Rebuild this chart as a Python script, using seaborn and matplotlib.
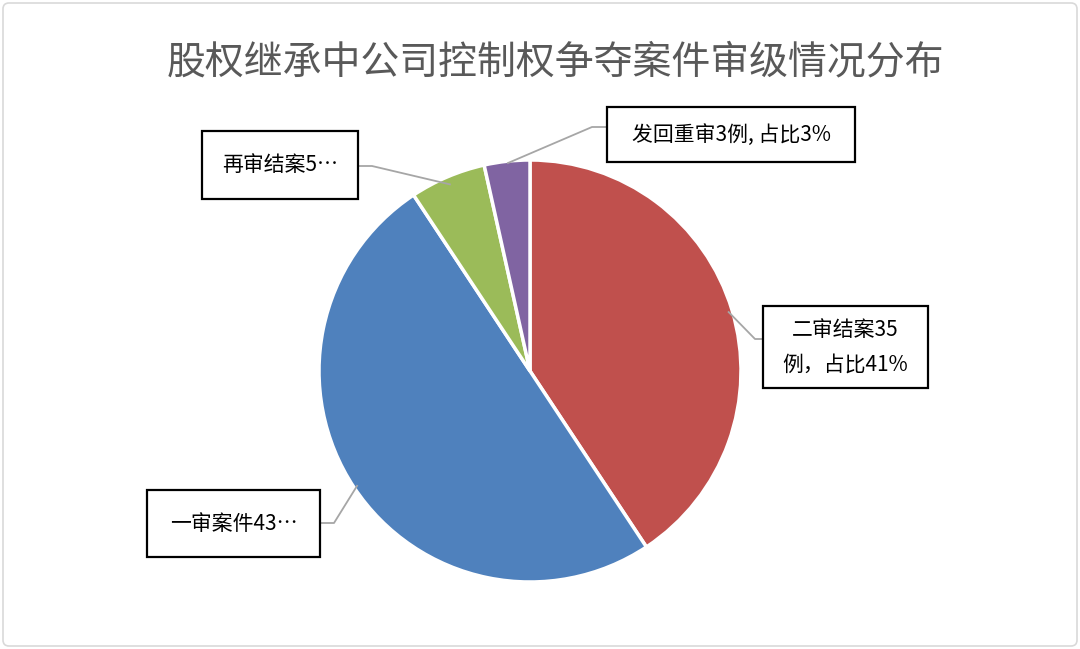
import matplotlib
matplotlib.use("Agg")
import matplotlib.pyplot as plt
import numpy as np
import seaborn as sns
from matplotlib.patches import FancyBboxPatch, Rectangle

TITLE = "股权继承中公司控制权争夺案件审级情况分布"
CATEGORIES = ["二审结案", "一审案件", "再审结案", "发回重审"]
COUNTS = [35, 43, 5, 3]
LABELS = ["二审结案35\n例，占比41%", "一审案件43…", "再审结案5…", "发回重审3例, 占比3%"]
COLORS = ["#C0504D", "#4F81BD", "#9BBB59", "#8064A2"]

W, H = 1080, 649
CX, CY, R = 530, 371, 211  # pie centre and radius in pixels

# label boxes (x0, y0, x1, y1) and leader elbow, in pixels
BOXES = [(763, 306, 928, 388), (147, 490, 320, 557), (202, 131, 358, 199), (607, 107, 855, 162)]
ELBOWS = [(755, 339), (334, 523), (372, 166), (592, 127)]
ANCHOR_R = [0.98, 0.98, 0.96, 0.99]


def px(x, y):
    return (x - CX) / R, (CY - y) / R


sns.set_theme(style="white")
plt.rcParams["font.family"] = ["Noto Sans CJK SC", "DejaVu Sans"]

fig = plt.figure(figsize=(W / 100, H / 100), dpi=100)
ax = fig.add_axes([0, 0, 1, 1])

wedges, _ = ax.pie(COUNTS, colors=COLORS, startangle=90, counterclock=False, radius=1,
                   wedgeprops=dict(edgecolor="white", linewidth=2.5))

ax.set_xlim(-CX / R, (W - CX) / R)
ax.set_ylim(-(H - CY) / R, CY / R)
ax.set_aspect("equal")
ax.axis("off")

# outer chart border
border = FancyBboxPatch((3, 3), W - 6, H - 6, boxstyle="round,pad=0,rounding_size=6",
                        transform=None, facecolor="none", edgecolor="#D9D9D9", linewidth=1.2)
fig.patches.append(border)

for w, label, box, elbow, ar in zip(wedges, LABELS, BOXES, ELBOWS, ANCHOR_R):
    mid = np.deg2rad((w.theta1 + w.theta2) / 2)
    anchor = (ar * np.cos(mid), ar * np.sin(mid))
    x0, y0, x1, y1 = box
    ex, ey = px(*elbow)
    side = px(x0, elbow[1]) if elbow[0] > CX else px(x1, elbow[1])
    ax.plot([anchor[0], ex, side[0]], [anchor[1], ey, side[1]], color="#A6A6A6", lw=1.3,
            solid_capstyle="butt", zorder=3)
    bx0, by1 = px(x0, y0)
    bx1, by0 = px(x1, y1)
    ax.add_patch(Rectangle((bx0, by0), bx1 - bx0, by1 - by0, facecolor="white",
                           edgecolor="black", lw=1.6, zorder=4))
    ax.text((bx0 + bx1) / 2, (by0 + by1) / 2, label, ha="center", va="center",
            fontsize=15, color="black", linespacing=1.75, zorder=5)

fig.text(555 / W, 1 - 62 / H, TITLE, ha="center", va="center", fontsize=28,
         color="#595959")

fig.savefig("out.png", dpi=100)
